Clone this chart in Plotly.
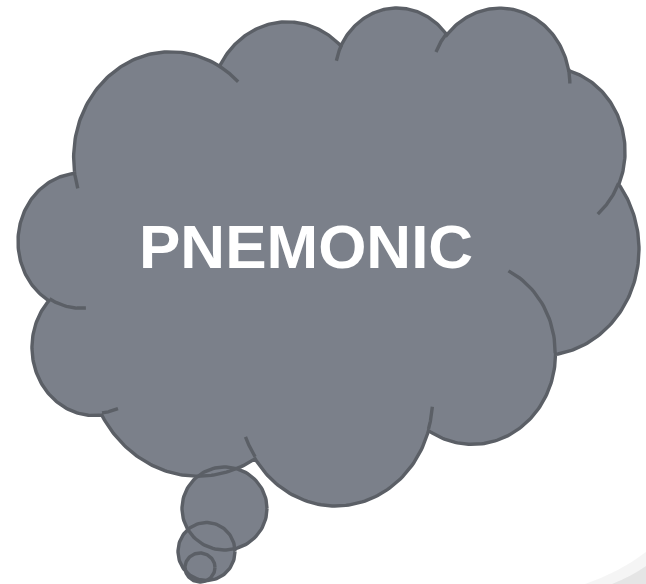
import numpy as np
import plotly.graph_objects as go

# ---- data: cloud geometry (DrawingML-style arc list, 43200 unit space) ----
cloud_start = (3900, 14370)
arc_wR = [6753, 5333, 4365, 4857, 5333, 6775, 5785, 6752, 7720, 4360, 4345]
arc_hR = [9190, 7267, 5945, 6595, 7273, 9220, 7867, 9215, 10543, 5918, 5945]
arc_st = [-11429249, -8646143, -8748475, -7859164, -4722533, -2776035, 37501, 1347096, 3974558, -16496525, -14809710]
arc_sw = [7426832, 5396714, 5983381, 7034504, 6541615, 7816140, 6842000, 6910353, 4542661, 8804134, 9151131]

inner_start_x = [4693, 6928, 16478, 28827, 34129, 41798, 38324, 29078, 22141, 14000, 4127]
inner_start_y = [26177, 34899, 39090, 34751, 22954, 15354, 5426, 3952, 4720, 5192, 15789]
inner_wR = [4345, 4360, 6752, 6752, 5785, 5333, 4857, 4857, 4365, 6753, 6753]
inner_hR = [5945, 5918, 9215, 9215, 7867, 7273, 6595, 6595, 5945, 9190, 9190]
inner_st = [5204520, 4416628, 8257449, 387196, -4217541, 1819082, -824660, -8950887, -9809656, -4002417, 9459261]
inner_sw = [1585770, 686848, 844866, 959901, 4255042, 1665090, 891534, 1091722, 1061181, 739161, 711490]

# measured outline extents of the cloud (pixels)
cloud_left, cloud_right, cloud_top, cloud_bottom = 18, 639, 8, 506

# thought bubbles (tail): centre x, centre y, radius x, radius y
bubble_cx = [224.5, 206.5, 200.0]
bubble_cy = [508.5, 551.5, 567.5]
bubble_rx = [42.5, 28.5, 15.0]
bubble_ry = [41.5, 29.0, 14.5]

label_text = "PNEMONIC"

FILL = "#7b808a"
LINE = "#5b5f66"
LW = 3.4
W, H = 646, 584


def arc_to(p, wR, hR, st, sw, n=80):
    a1 = np.radians(st / 60000.0)
    s = np.radians(sw / 60000.0)
    a2 = a1 + s
    t1 = np.arctan2(wR * np.sin(a1), hR * np.cos(a1))
    t2 = np.arctan2(wR * np.sin(a2), hR * np.cos(a2))
    if s > 0:
        while t2 < t1:
            t2 += 2 * np.pi
    else:
        while t2 > t1:
            t2 -= 2 * np.pi
    cx = p[0] - wR * np.cos(t1)
    cy = p[1] - hR * np.sin(t1)
    t = np.linspace(t1, t2, n)
    return cx + wR * np.cos(t), cy + hR * np.sin(t)


# outer cloud path
xs, ys = [cloud_start[0]], [cloud_start[1]]
cur = cloud_start
for wR, hR, st, sw in zip(arc_wR, arc_hR, arc_st, arc_sw):
    ax, ay = arc_to(cur, wR, hR, st, sw)
    xs.extend(ax[1:]); ys.extend(ay[1:])
    cur = (ax[-1], ay[-1])
xs.append(cloud_start[0]); ys.append(cloud_start[1])
xs = np.array(xs); ys = np.array(ys)

x0, x1, y0, y1 = xs.min(), xs.max(), ys.min(), ys.max()
sx = (cloud_right - cloud_left) / (x1 - x0)
sy = (cloud_bottom - cloud_top) / (y1 - y0)


def tx(v):
    return cloud_left + (np.asarray(v) - x0) * sx


def ty(v):
    return cloud_top + (np.asarray(v) - y0) * sy


cloud_x, cloud_y = tx(xs), ty(ys)

inner_x, inner_y = [], []
for px, py, wR, hR, st, sw in zip(inner_start_x, inner_start_y, inner_wR, inner_hR, inner_st, inner_sw):
    ax, ay = arc_to((px, py), wR, hR, st, sw, n=30)
    inner_x.extend(list(tx(ax)) + [None])
    inner_y.extend(list(ty(ay)) + [None])

fig = go.Figure()

# fills first
fig.add_trace(go.Scatter(x=cloud_x, y=cloud_y, mode="lines", fill="toself",
                         fillcolor=FILL, line=dict(width=0, color=FILL),
                         hoverinfo="skip", showlegend=False))
th = np.linspace(0, 2 * np.pi, 120)
for cx, cy, rx, ry in zip(bubble_cx, bubble_cy, bubble_rx, bubble_ry):
    fig.add_trace(go.Scatter(x=cx + rx * np.cos(th), y=cy + ry * np.sin(th), mode="lines",
                             fill="toself", fillcolor=FILL, line=dict(width=0, color=FILL),
                             hoverinfo="skip", showlegend=False))

# outlines
fig.add_trace(go.Scatter(x=cloud_x, y=cloud_y, mode="lines", line=dict(width=LW, color=LINE),
                         hoverinfo="skip", showlegend=False))
fig.add_trace(go.Scatter(x=inner_x, y=inner_y, mode="lines", line=dict(width=LW, color=LINE),
                         hoverinfo="skip", showlegend=False, connectgaps=False))
for cx, cy, rx, ry in zip(bubble_cx, bubble_cy, bubble_rx, bubble_ry):
    fig.add_trace(go.Scatter(x=cx + rx * np.cos(th), y=cy + ry * np.sin(th), mode="lines",
                             line=dict(width=LW, color=LINE),
                             hoverinfo="skip", showlegend=False))

# faint page-curl shadow in the bottom-right corner
fig.add_shape(type="path", xref="x", yref="y",
              path="M 585 584 Q 620 572 646 552 L 646 584 Z",
              fillcolor="rgba(160,160,160,0.10)", line=dict(width=0), layer="below")
fig.add_shape(type="path", xref="x", yref="y",
              path="M 612 584 Q 632 576 646 566 L 646 584 Z",
              fillcolor="rgba(150,150,150,0.16)", line=dict(width=0), layer="below")

fig.add_annotation(x=306, y=246, text="<b>%s</b>" % label_text, showarrow=False,
                   xanchor="center", yanchor="middle",
                   font=dict(family="Liberation Sans, Arial, sans-serif", size=62, color="white"))

fig.update_xaxes(range=[0, W], visible=False, fixedrange=True)
fig.update_yaxes(range=[H, 0], visible=False, fixedrange=True)
fig.update_layout(width=W, height=H, margin=dict(l=0, r=0, t=0, b=0),
                  paper_bgcolor="white", plot_bgcolor="white")

fig.write_html("out.html", config={"displayModeBar": False},
               post_script="document.body.style.margin='0px';document.body.style.overflow='hidden';")
